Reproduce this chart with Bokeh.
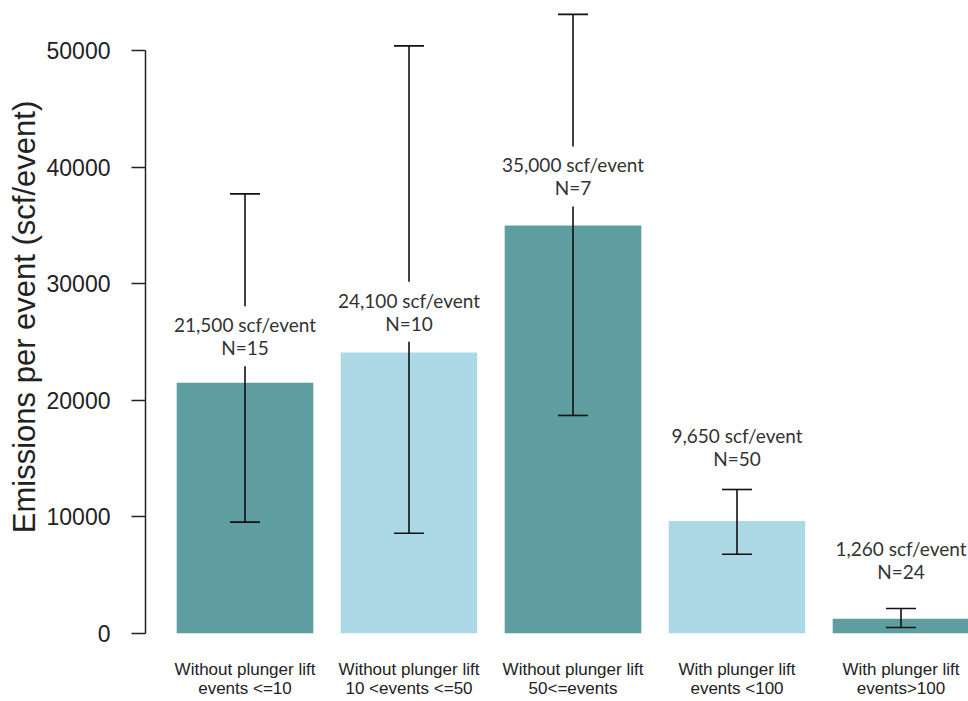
from bokeh.plotting import figure
from bokeh.models import ColumnDataSource, Range1d, FixedTicker, Whisker, TeeHead
from bokeh.core.properties import value
from bokeh.embed import file_html
from bokeh.resources import INLINE

# ---- data ----
categories = [
    "Without plunger lift\nevents <=10",
    "Without plunger lift\n10 <events <=50",
    "Without plunger lift\n50<=events",
    "With plunger lift\nevents <100",
    "With plunger lift\nevents>100",
]
means = [21500, 24100, 35000, 9650, 1260]
err_upper = [37700, 50400, 53100, 12350, 2140]
err_lower = [9550, 8600, 18700, 6800, 520]
counts = [15, 10, 7, 50, 24]
label_y = [25500, 27600, 39200, 16000, 6300]
y_ticks = [0, 10000, 20000, 30000, 40000, 50000]
bar_colors = ["#5F9EA0", "#ADD8E6", "#5F9EA0", "#ADD8E6", "#5F9EA0"]

xs = list(range(1, len(categories) + 1))
labels = [f"{m:,} scf/event\nN={n}" for m, n in zip(means, counts)]

src = ColumnDataSource(dict(x=xs, top=means, upper=err_upper, lower=err_lower,
                            color=bar_colors, ly=label_y, label=labels))

p = figure(width=968, height=701, output_backend="svg", toolbar_location=None,
           x_range=Range1d(0.3933, 5.4116), y_range=Range1d(0, 54288),
           min_border_left=145, min_border_right=0, min_border_top=0,
           min_border_bottom=68)
p.outline_line_color = None
p.grid.visible = False
p.background_fill_color = "white"
p.border_fill_color = "white"

p.vbar(x="x", top="top", width=0.833, fill_color="color", line_color=None, source=src)

wh = Whisker(base="x", upper="upper", lower="lower", source=src, dimension="height",
             line_color="#111111", line_width=1.6, level="annotation",
             upper_head=TeeHead(size=30, line_color="#111111", line_width=1.6),
             lower_head=TeeHead(size=30, line_color="#111111", line_width=1.6))
p.add_layout(wh)

p.text(x="x", y="ly", text="label", source=src, text_align="center",
       text_baseline="middle", text_font=value("Lato"), text_font_size=value("19px"),
       text_line_height=1.0,
       text_color="#333333", background_fill_color="white", padding=7,
       level="overlay")

# y axis
ya = p.yaxis[0]
ya.ticker = FixedTicker(ticks=y_ticks)
ya.bounds = (0, 50000)
ya.minor_tick_line_color = None
ya.major_tick_in = 0
ya.major_tick_out = 14
ya.major_label_standoff = 21
ya.axis_line_color = "#222222"
ya.major_tick_line_color = "#222222"
ya.axis_line_width = 1.5
ya.major_tick_line_width = 1.5
ya.major_label_text_font = "Liberation Sans"
ya.major_label_text_font_size = "23px"
ya.major_label_text_color = "#222222"
ya.axis_label = "Emissions per event (scf/event)"
ya.axis_label_text_font = "Liberation Sans"
ya.axis_label_text_font_size = "31px"
ya.axis_label_text_font_style = "normal"
ya.axis_label_text_color = "#222222"
ya.axis_label_standoff = 2

# x axis
xa = p.xaxis[0]
xa.ticker = FixedTicker(ticks=xs)
xa.major_label_overrides = {x: c for x, c in zip(xs, categories)}
xa.axis_line_color = None
xa.major_tick_line_color = None
xa.minor_tick_line_color = None
xa.major_tick_out = 0
xa.major_tick_in = 0
xa.major_label_standoff = 26
xa.major_label_text_font = "Liberation Sans"
xa.major_label_text_font_size = "17px"
xa.major_label_text_line_height = 1.0
xa.major_label_text_color = "#222222"

open("out.html", "w").write(file_html(p, INLINE))
